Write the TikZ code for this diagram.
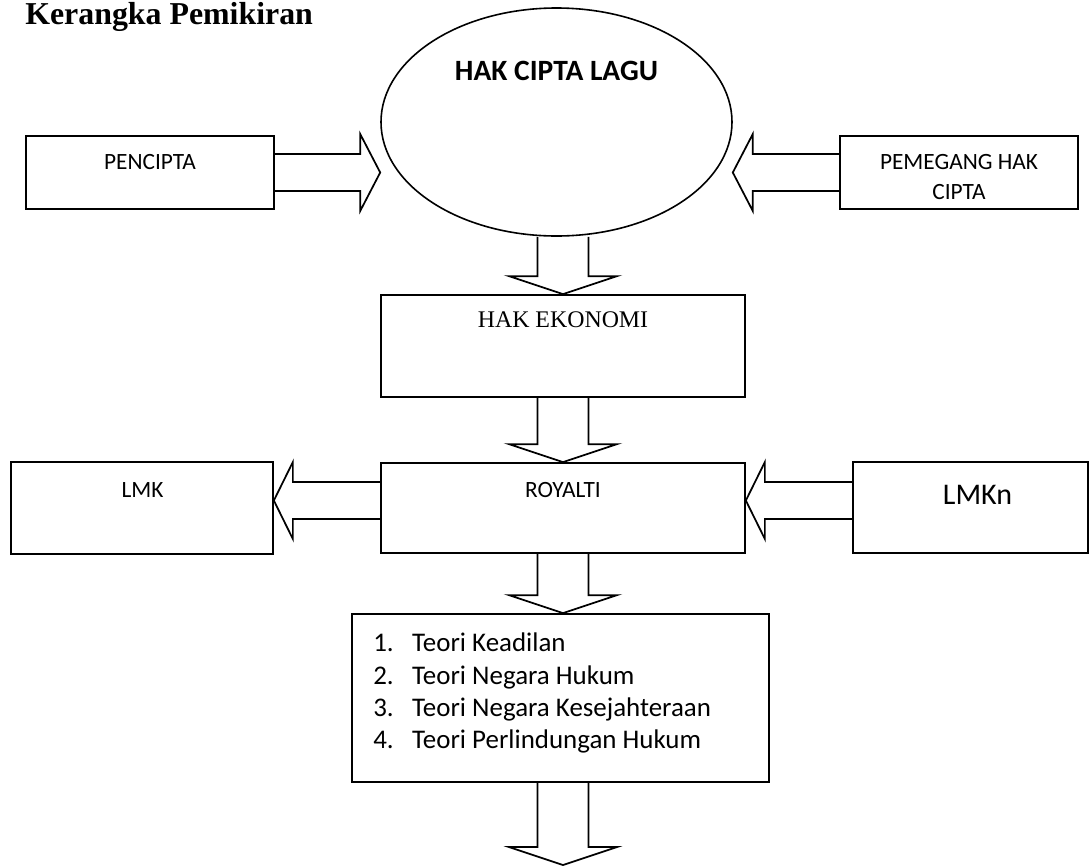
\documentclass[tikz,border=0pt]{standalone}
\usepackage{fontspec}
\setmainfont{Carlito}
\newfontfamily\timesfont{Liberation Serif}
\usetikzlibrary{shapes.geometric,calc}

\tikzset{
  box/.style={draw, line width=1.3pt, rectangle, inner sep=0pt},
  blk/.style={draw, line width=1.3pt, line join=miter},
  lbl/.style={inner sep=0pt, anchor=base, font=\fontsize{17.5}{21}\selectfont},
  item/.style={inner sep=0pt, anchor=base west, font=\fontsize{20.2}{24}\selectfont},
}

% block arrow pointing down, shaft from #1 to tip #2
\newcommand{\blkdown}[2]{%
  \draw[blk] ($(#1)+(-25.5,0)$) -- ($(#2)+(-25.5,-18)$) -- ($(#2)+(-54,-18)$) -- (#2)
    -- ($(#2)+(54,-18)$) -- ($(#2)+(25.5,-18)$) -- ($(#1)+(25.5,0)$);}
% block arrow sideways, #3 = head length (negative when pointing right)
\newcommand{\blkside}[3]{%
  \draw[blk] ($(#1)+(0,-18.5)$) -- ($(#2)+(#3,-18.5)$) -- ($(#2)+(#3,-38.5)$) -- (#2)
    -- ($(#2)+(#3,38.5)$) -- ($(#2)+(#3,18.5)$) -- ($(#1)+(0,18.5)$);}

\begin{document}
\begin{tikzpicture}[x=0.75pt,y=0.75pt,yscale=-1,xscale=1]
  \useasboundingbox (0,0) rectangle (1090,865);

  \node[anchor=base west, inner sep=0pt, font=\timesfont\bfseries\fontsize{23.9}{28}\selectfont] (title) at (25,24) {Kerangka Pemikiran};

  % top row
  \node[ellipse, draw, line width=1.2pt, inner sep=0pt, minimum width=263.25pt, minimum height=171pt] (cipta) at (556.5,122) {};
  \node[lbl, font=\bfseries\fontsize{22.1}{26}\selectfont] (cipta-t) at (556.5,80) {HAK CIPTA LAGU};
  \node[box, minimum width=186pt, minimum height=54.75pt] (pencipta) at (150,172.5) {};
  \node[lbl] (pencipta-t) at (150,169.5) {PENCIPTA};
  \node[box, minimum width=178.5pt, minimum height=54.75pt] (pemegang) at (959,172.5) {};
  \node[lbl] (pemegang-t) at (959,169.5) {PEMEGANG HAK};
  \node[lbl] (pemegang-t2) at (959,199.5) {CIPTA};

  % middle column
  \node[box, minimum width=273pt, minimum height=76.5pt] (ekonomi) at (563,346) {};
  \node[lbl, font=\timesfont\fontsize{17.9}{21}\selectfont] (ekonomi-t) at (563,327.3) {HAK EKONOMI};
  \node[box, minimum width=273pt, minimum height=67.5pt] (royalti) at (563,508) {};
  \node[lbl] (royalti-t) at (563,497.5) {ROYALTI};
  \node[box, minimum width=196.5pt, minimum height=69pt] (lmk) at (142,508) {};
  \node[lbl] (lmk-t) at (142.5,497) {LMK};
  \node[box, minimum width=176.25pt, minimum height=68.25pt] (lmkn) at (970.5,507.5) {};
  \node[lbl, font=\fontsize{22.5}{26}\selectfont] (lmkn-t) at (977.5,504) {LMKn};

  \node[box, minimum width=312.75pt, minimum height=126pt] (teori) at (560.5,698) {};
  \foreach \t [count=\i] in {Teori Keadilan, Teori Negara Hukum, Teori Negara Kesejahteraan, Teori Perlindungan Hukum}
    \node[item] (teori-\i) at (373,{619.4+32.3*\i}) {\makebox[29.25pt][l]{\i.}\t};

  % arrows
  \coordinate (cipta-out) at (ekonomi.north |- cipta.south);
  \coordinate (teori-in) at (royalti.south |- teori.north);
  \coordinate (teori-out) at (royalti.south |- teori.south);
  \coordinate (end) at (563,865);
  \coordinate (cipta-l) at (cipta.west |- pencipta.east);
  \coordinate (cipta-r) at (cipta.east |- pemegang.west);
  \coordinate (royalti-l) at ($(royalti.west)+(0,-7.5)$);
  \coordinate (royalti-r) at ($(royalti.east)+(0,-7.5)$);
  \coordinate (lmk-in) at ($(lmk.east)+(0,-7.5)$);
  \coordinate (lmkn-out) at ($(lmkn.west)+(0,-7)$);

  \blkdown{cipta-out}{ekonomi.north}
  \blkdown{ekonomi.south}{royalti.north}
  \blkdown{royalti.south}{teori-in}
  \blkdown{teori-out}{end}
  \blkside{pencipta.east}{cipta-l}{-20}
  \blkside{pemegang.west}{cipta-r}{20}
  \blkside{royalti-l}{lmk-in}{19}
  \blkside{lmkn-out}{royalti-r}{19}
\end{tikzpicture}
\end{document}
